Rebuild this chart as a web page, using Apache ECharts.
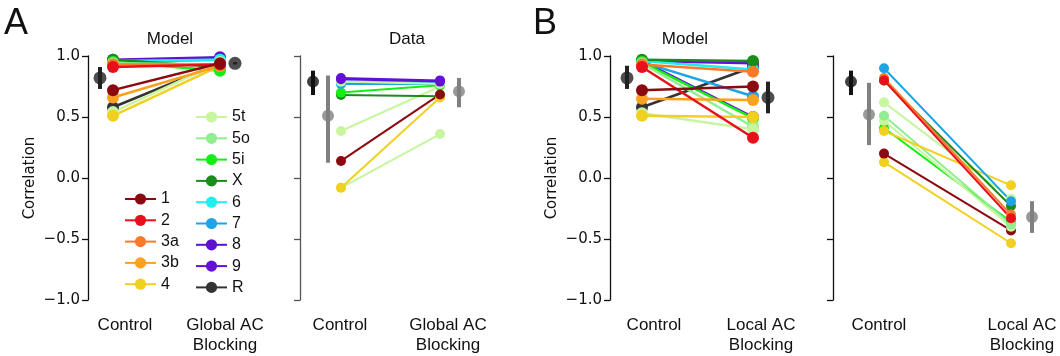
<!DOCTYPE html>
<html><head><meta charset="utf-8">
<script src="https://cdn.jsdelivr.net/npm/echarts@6/dist/echarts.min.js"></script>
<style>html,body{margin:0;padding:0;background:#fff}#c{width:1060px;height:356px}</style>
</head><body><div id="c"></div>
<script>
// ---------------- DATA ----------------
const groups = ['1','2','3a','3b','4','5t','5o','5i','X','6','7','8','9','R'];
const groupColors = ['#8b0a10','#e8101a','#fb7a2a','#fca020','#f2d020','#c8f5a0','#90ee90','#14ee14','#1a8c1a','#20eef0','#1ca4e6','#5c10d0','#6410d8','#333333'];
const yTicks = [-1, -0.5, 0, 0.5, 1];

// Panel A – Model (Control vs Global AC Blocking)
const modelA_control = [0.72, 0.91, 0.93, 0.66, 0.51, 0.54, 0.94, 0.95, 0.97, 0.96, 0.95, 0.97, 0.96, 0.58];
const modelA_block   = [0.94, 0.93, 0.93, 0.92, 0.92, 0.95, 0.93, 0.88, 0.91, 0.97, 0.97, 0.99, 0.98, 0.94];
const modelA_sumMean = [0.82, 0.94];
const modelA_sumLo   = [0.73, 0.93];
const modelA_sumHi   = [0.91, 0.95];

// Panel A – Data
const dataA_groups  = ['5t','X','5i','7','6','5t','8','9','5t','4','1'];
const dataA_control = [0.385, 0.68, 0.70, 0.77, 0.79, 0.79, 0.81, 0.82, -0.08, -0.08, 0.14];
const dataA_block   = [0.75, 0.67, 0.76, 0.77, 0.78, 0.77, 0.79, 0.80, 0.36, 0.66, 0.685];
const dataA_modelMean = [0.79], dataA_modelLo = [0.68], dataA_modelHi = [0.88];
const dataA_sumMean = [0.51, 0.71];
const dataA_sumLo   = [0.125, 0.58];
const dataA_sumHi   = [0.84, 0.82];

// Panel B – Model (Control vs Local AC Blocking)
const modelB_control = [0.72, 0.91, 0.93, 0.65, 0.51, 0.53, 0.94, 0.95, 0.97, 0.96, 0.95, 0.96, 0.96, 0.58];
const modelB_block   = [0.75, 0.33, 0.87, 0.64, 0.50, 0.40, 0.42, 0.49, 0.96, 0.89, 0.67, 0.50, 0.94, 0.91];
const modelB_sumMean = [0.82, 0.66];
const modelB_sumLo   = [0.73, 0.53];
const modelB_sumHi   = [0.92, 0.79];

// Panel B – Data
const dataB_groups  = ['4','1','5i','5t','5o','5t','4','X','3a','2','7'];
const dataB_control = [0.13, 0.20, 0.41, 0.47, 0.51, 0.62, 0.385, 0.80, 0.82, 0.80, 0.90];
const dataB_block   = [-0.535, -0.43, -0.36, -0.40, -0.38, -0.17, -0.06, -0.23, -0.30, -0.33, -0.19];
const dataB_modelMean = [0.79], dataB_modelLo = [0.68], dataB_modelHi = [0.88];
const dataB_sumMean = [0.52, -0.32];
const dataB_sumLo   = [0.27, -0.45];
const dataB_sumHi   = [0.78, -0.19];

// ---------------- LAYOUT (pixels) ----------------
const TOP = 56, HEIGHT = 244;
const panels = [
  {spine: 88,  ctrl: 113, block: 220, right: 252, labels: [125, 225], blockLabel: 'Global AC\nBlocking', spineColor: '#111', yLabels: true},
  {spine: 300, ctrl: 341, block: 440, right: 475, labels: [340, 448], blockLabel: 'Global AC\nBlocking', spineColor: '#555', yLabels: false},
  {spine: 610, ctrl: 642, block: 753, right: 785, labels: [654, 761], blockLabel: 'Local AC\nBlocking', spineColor: '#111', yLabels: true},
  {spine: 833, ctrl: 884, block: 1011, right: 1058, labels: [879, 1022], blockLabel: 'Local AC\nBlocking', spineColor: '#111', yLabels: false}
];
const toU = (p, px) => (px - p.ctrl) / (p.block - p.ctrl);
// summary marker pixel positions (layout)
const sumPx = [[100, 235], [313, 328, 459], [627, 768], [851, 869, 1032]];

const SANS = "'Liberation Sans', Arial, sans-serif";
const DJV = "'DejaVu Sans', sans-serif";

const grids = [], xAxes = [], yAxes = [], series = [];
panels.forEach((p, i) => {
  grids.push({left: p.spine, top: TOP, width: p.right - p.spine, height: HEIGHT, containLabel: false});
  const lc = toU(p, p.labels[0]), lb = toU(p, p.labels[1]);
  xAxes.push({
    type: 'value', gridIndex: i, min: toU(p, p.spine), max: toU(p, p.right),
    axisLine: {show: false, onZero: false}, axisTick: {show: false}, splitLine: {show: false},
    axisLabel: {
      customValues: [lc, lb], margin: 15, fontSize: 17, lineHeight: 20,
      fontFamily: SANS, color: '#111',
      formatter: v => Math.abs(v - lc) < 1e-6 ? 'Control' : p.blockLabel
    }
  });
  yAxes.push({
    type: 'value', gridIndex: i, min: -1, max: 1, interval: 0.5,
    axisLine: {show: true, onZero: false, lineStyle: {color: p.spineColor, width: 1.3}},
    axisTick: {show: true, inside: false, length: 6, lineStyle: {color: p.spineColor, width: 1.3}},
    splitLine: {show: false},
    axisLabel: {show: p.yLabels, margin: 8, fontSize: 15, fontFamily: DJV, color: '#111',
      formatter: v => (v < 0 ? '\u2212' : '') + Math.abs(v).toFixed(1)},
    name: p.yLabels ? 'Correlation' : '', nameLocation: 'middle', nameRotate: 90, nameGap: 50,
    nameTextStyle: {fontSize: 15, fontFamily: DJV, color: '#111'}
  });
});

function pairLines(gi, names, c, b, size, width) {
  names.forEach((n, k) => {
    const col = groupColors[groups.indexOf(n)];
    series.push({
      type: 'line', name: n, xAxisIndex: gi, yAxisIndex: gi,
      data: [[0, c[k]], [1, b[k]]],
      symbol: 'circle', symbolSize: size, showSymbol: true,
      lineStyle: {color: col, width: width}, itemStyle: {color: col},
      emphasis: {disabled: true}, silent: true
    });
  });
}
function summary(gi, xsPx, means, lo, hi, color, size) {
  const p = panels[gi];
  means.forEach((m, k) => {
    const x = toU(p, xsPx[k]);
    series.push({type: 'line', xAxisIndex: gi, yAxisIndex: gi, data: [[x, lo[k]], [x, hi[k]]],
      symbol: 'none', lineStyle: {color: color, width: 4, cap: 'butt'}, silent: true, z: 3});
    series.push({type: 'scatter', xAxisIndex: gi, yAxisIndex: gi, data: [[x, m]],
      symbol: 'circle', symbolSize: size, itemStyle: {color: color}, silent: true, z: 3});
  });
}

// model panels: draw in reverse group order so group 1 is on top
const rev = groups.map((g, i) => i).reverse();
pairLines(0, rev.map(i => groups[i]), rev.map(i => modelA_control[i]), rev.map(i => modelA_block[i]), 12, 2.5);
summary(0, sumPx[0], modelA_sumMean, modelA_sumLo, modelA_sumHi, '#222', 13);

pairLines(1, dataA_groups, dataA_control, dataA_block, 10, 2);
summary(1, [sumPx[1][0]], dataA_modelMean, dataA_modelLo, dataA_modelHi, '#111', 12);
summary(1, sumPx[1].slice(1), dataA_sumMean, dataA_sumLo, dataA_sumHi, '#808080', 12);

pairLines(2, rev.map(i => groups[i]), rev.map(i => modelB_control[i]), rev.map(i => modelB_block[i]), 12, 2.5);
summary(2, sumPx[2], modelB_sumMean, modelB_sumLo, modelB_sumHi, '#222', 13);

pairLines(3, dataB_groups, dataB_control, dataB_block, 10, 2);
summary(3, [sumPx[3][0]], dataB_modelMean, dataB_modelLo, dataB_modelHi, '#111', 12);
summary(3, sumPx[3].slice(1), dataB_sumMean, dataB_sumLo, dataB_sumHi, '#808080', 12);

const legendBase = {orient: 'vertical', itemWidth: 31, itemHeight: 14, itemGap: 5.3, padding: 0,
  selectedMode: false, textStyle: {fontSize: 16, fontFamily: SANS, color: '#111', lineHeight: 14}};

const option = {
  animation: false,
  backgroundColor: '#fff',
  grid: grids, xAxis: xAxes, yAxis: yAxes, series: series,
  legend: [
    Object.assign({}, legendBase, {left: 124, top: 191, data: groups.slice(0, 5)}),
    Object.assign({}, legendBase, {left: 195, top: 109, data: groups.slice(5)})
  ],
  title: [
    {text: 'A', left: 4, top: 6, padding: 0, textStyle: {fontSize: 36, fontWeight: 'normal', fontFamily: SANS, color: '#111'}},
    {text: 'B', left: 533, top: 6, padding: 0, textStyle: {fontSize: 36, fontWeight: 'normal', fontFamily: SANS, color: '#111'}},
    {text: 'Model', left: 170, textAlign: 'center', top: 31, padding: 0, textStyle: {fontSize: 17, fontWeight: 'normal', fontFamily: SANS, color: '#111'}},
    {text: 'Data', left: 407, textAlign: 'center', top: 31, padding: 0, textStyle: {fontSize: 17, fontWeight: 'normal', fontFamily: SANS, color: '#111'}},
    {text: 'Model', left: 685, textAlign: 'center', top: 31, padding: 0, textStyle: {fontSize: 17, fontWeight: 'normal', fontFamily: SANS, color: '#111'}}
  ]
};
const chart = echarts.init(document.getElementById('c'), null, {renderer: 'canvas'});
chart.setOption(option);
</script>
</body></html>
